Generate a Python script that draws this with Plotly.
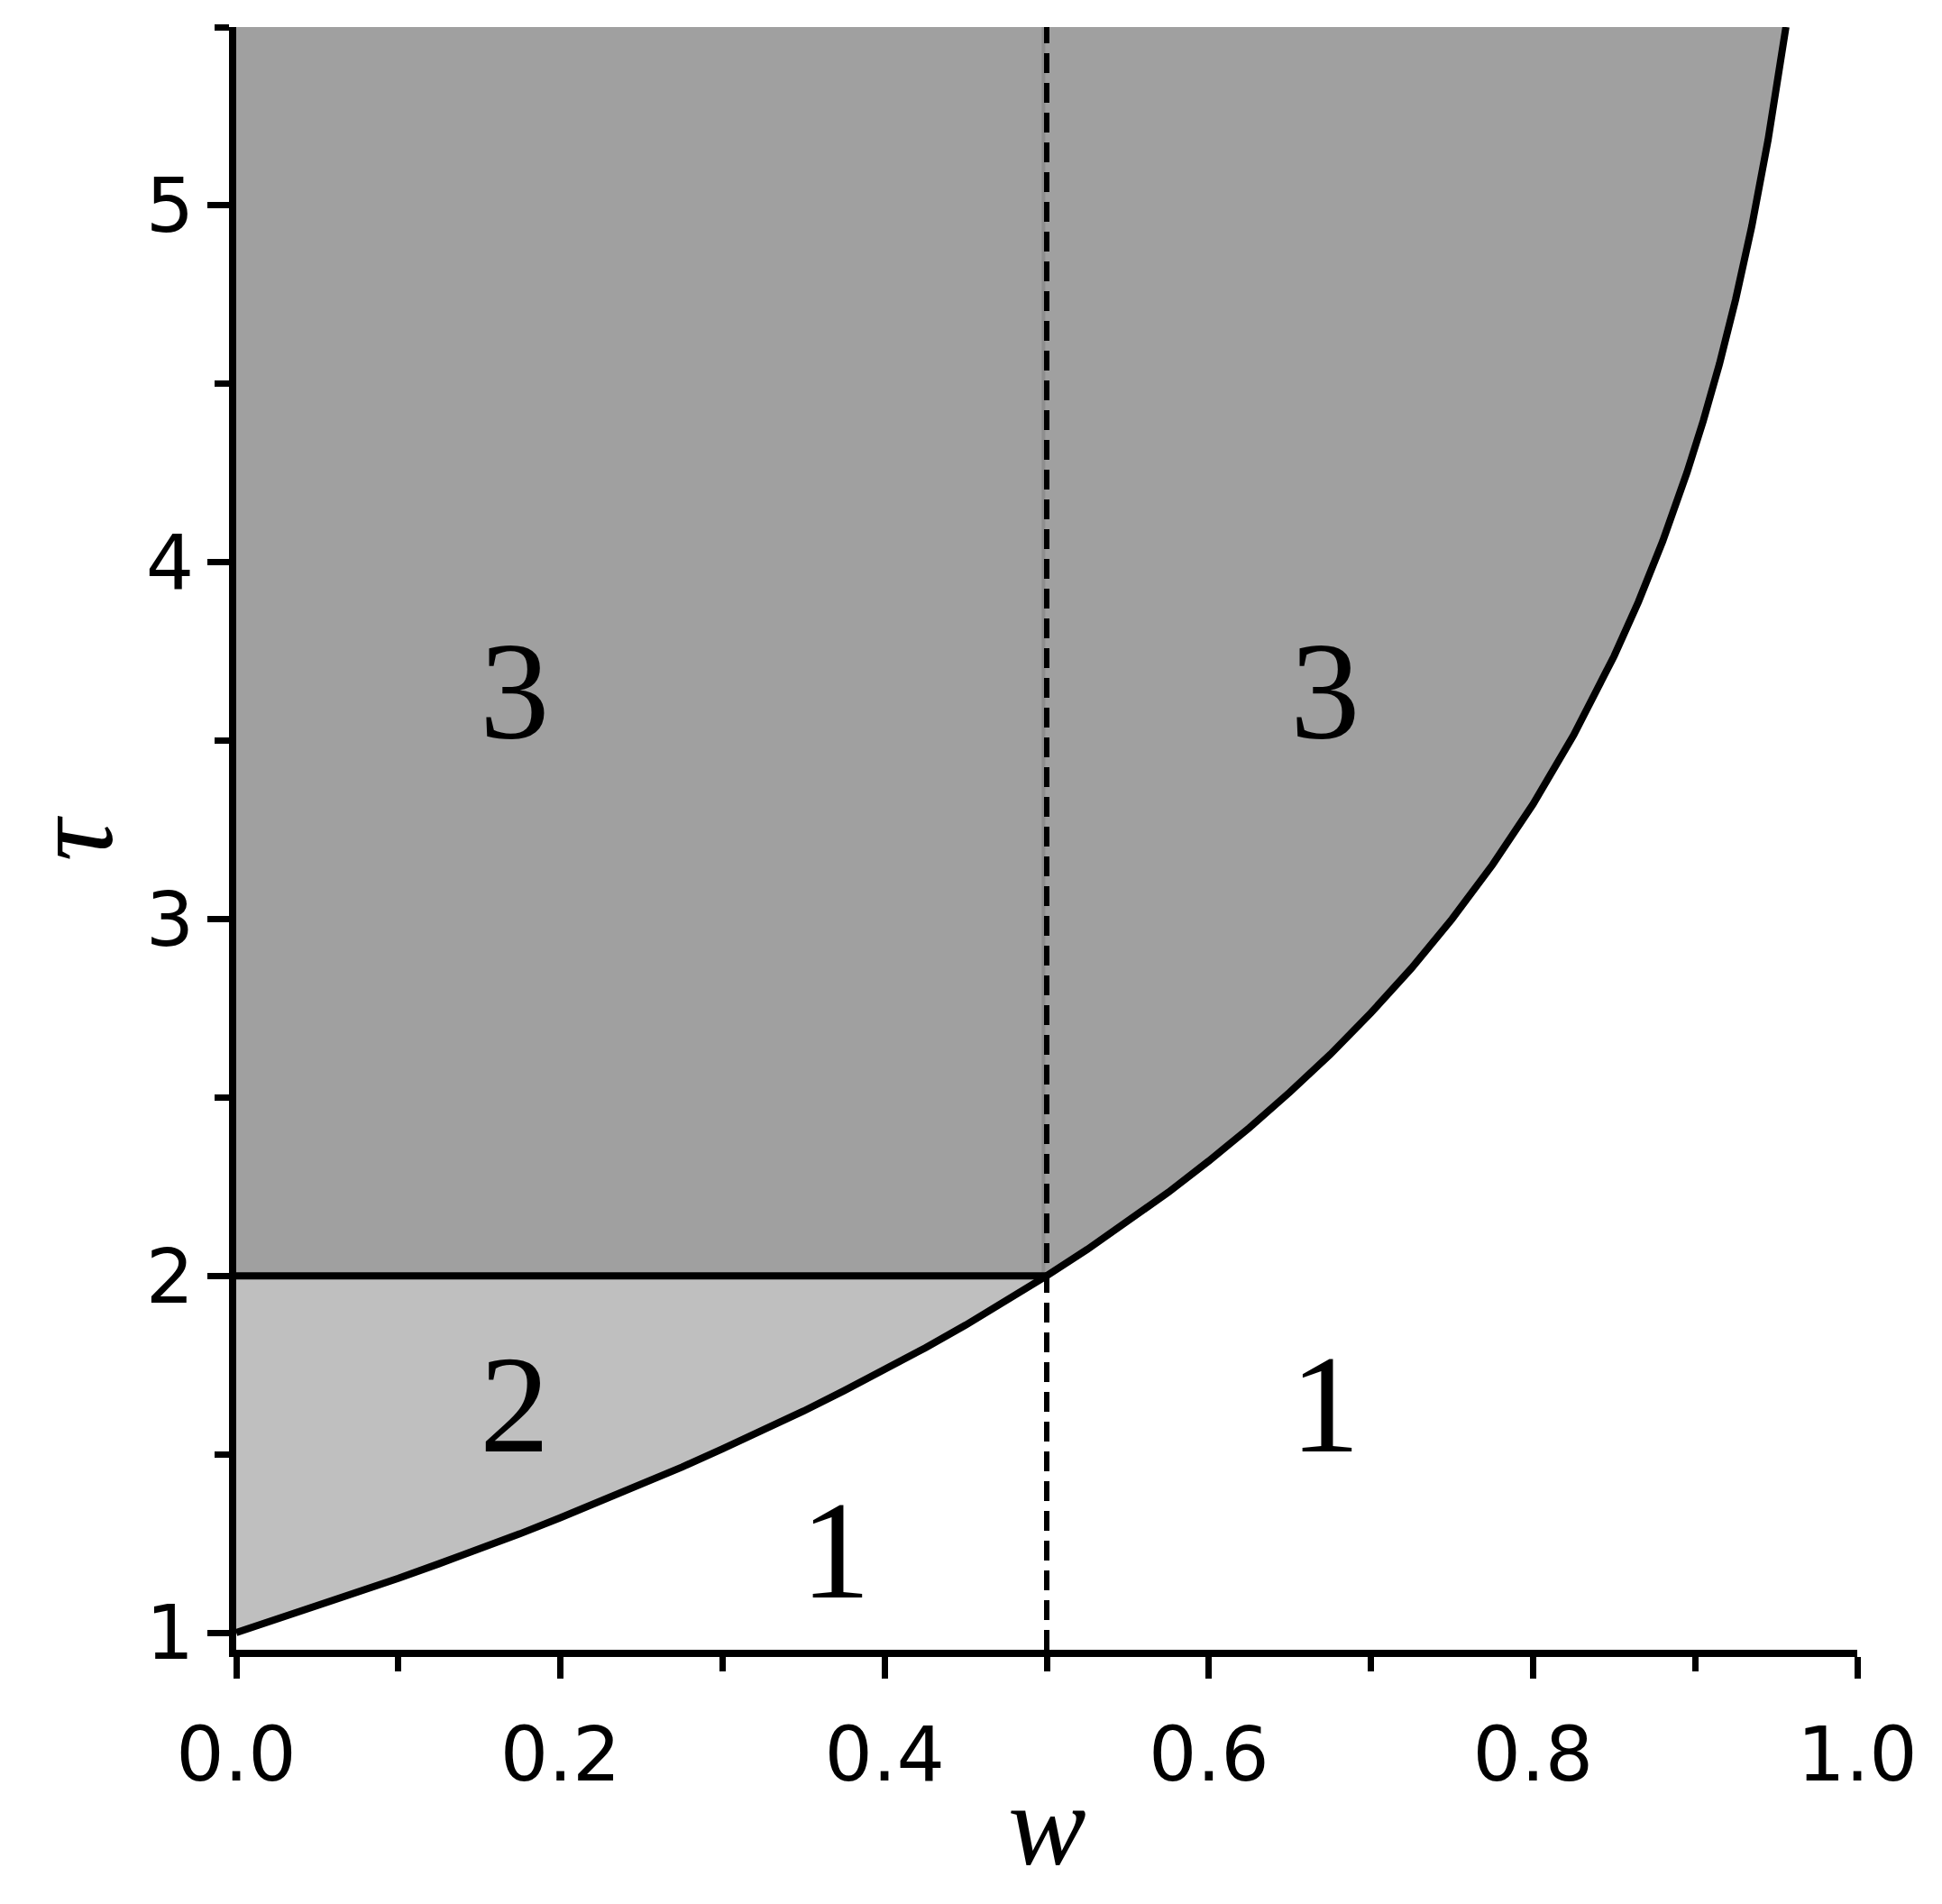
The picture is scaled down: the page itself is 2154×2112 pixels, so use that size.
import plotly.graph_objects as go

# boundary curve tau(w)
w_curve = [0.000, 0.025, 0.050, 0.075, 0.100, 0.125, 0.150, 0.175, 0.200, 0.225,
           0.250, 0.275, 0.300, 0.325, 0.350, 0.375, 0.400, 0.425, 0.450, 0.475,
           0.500, 0.525, 0.550, 0.575, 0.600, 0.625, 0.650, 0.675, 0.700, 0.725,
           0.750, 0.775, 0.800, 0.825, 0.850, 0.865, 0.880, 0.895, 0.905, 0.915,
           0.925, 0.935, 0.945, 0.956]
tau_curve = [1.000, 1.037, 1.074, 1.113, 1.152, 1.193, 1.234, 1.277, 1.322, 1.368,
             1.415, 1.464, 1.515, 1.567, 1.621, 1.678, 1.737, 1.798, 1.862, 1.929,
             2.000, 2.074, 2.152, 2.234, 2.322, 2.415, 2.515, 2.621, 2.737, 2.862,
             3.000, 3.152, 3.322, 3.515, 3.737, 3.889, 4.059, 4.252, 4.396, 4.556,
             4.737, 4.943, 5.184, 5.500]

W_SPLIT = 0.5
TAU_SPLIT = 2.0
TAU_MIN = 0.952
TAU_MAX = 5.5

region_labels = ["3", "3", "2", "1", "1"]
region_w = [0.172, 0.672, 0.172, 0.370, 0.672]
region_tau = [3.64, 3.64, 1.64, 1.23, 1.64]

x_ticks = [0.0, 0.2, 0.4, 0.6, 0.8, 1.0]
x_ticktext = ["0.0", "0.2", "0.4", "0.6", "0.8", "1.0"]
y_ticks = [1, 2, 3, 4, 5]

DARK = "#a0a0a0"
LIGHT = "#bfbfbf"

left = [(w, t) for w, t in zip(w_curve, tau_curve) if w <= W_SPLIT]
right = [(w, t) for w, t in zip(w_curve, tau_curve) if w >= W_SPLIT]

fig = go.Figure()

# region 3 (dark)
fig.add_trace(go.Scatter(
    x=[0.0] + [p[0] for p in right] + [0.0],
    y=[TAU_SPLIT] + [p[1] for p in right] + [TAU_MAX],
    fill="toself", fillcolor=DARK, line=dict(width=0), mode="lines",
    hoverinfo="skip", showlegend=False))

# region 2 (light)
fig.add_trace(go.Scatter(
    x=[p[0] for p in left] + [0.0],
    y=[p[1] for p in left] + [TAU_SPLIT],
    fill="toself", fillcolor=LIGHT, line=dict(width=0), mode="lines",
    hoverinfo="skip", showlegend=False))

# faint fill edge at the split
fig.add_trace(go.Scatter(
    x=[W_SPLIT - 0.002, W_SPLIT - 0.002], y=[TAU_SPLIT, TAU_MAX], mode="lines",
    line=dict(color="#8e8e8e", width=4), hoverinfo="skip", showlegend=False))

# horizontal boundary tau = 2
fig.add_trace(go.Scatter(
    x=[0.0, W_SPLIT], y=[TAU_SPLIT, TAU_SPLIT], mode="lines",
    line=dict(color="black", width=8), hoverinfo="skip", showlegend=False))

# dashed split line
fig.add_trace(go.Scatter(
    x=[W_SPLIT, W_SPLIT], y=[TAU_MIN, TAU_MAX], mode="lines",
    line=dict(color="black", width=6, dash="22px,11px"),
    hoverinfo="skip", showlegend=False))

# curve
fig.add_trace(go.Scatter(
    x=w_curve, y=tau_curve, mode="lines",
    line=dict(color="black", width=8),
    hoverinfo="skip", showlegend=False))

for lab, w, t in zip(region_labels, region_w, region_tau):
    fig.add_annotation(x=w, y=t, text=lab, showarrow=False,
                       font=dict(family="Liberation Serif", size=155, color="black"),
                       xanchor="center", yanchor="middle")

# axis labels
fig.add_annotation(x=0.5, y=-0.108, xref="paper", yref="paper", text="<i>w</i>",
                   showarrow=False, font=dict(family="Liberation Serif", size=130, color="black"),
                   xanchor="center", yanchor="middle")
fig.add_annotation(x=-0.101, y=0.500, xref="paper", yref="paper", text="<i>τ</i>",
                   showarrow=False, textangle=-90,
                   font=dict(family="Liberation Serif", size=130, color="black"),
                   xanchor="center", yanchor="middle")

axis_common = dict(
    showgrid=False, zeroline=False, showline=True, linecolor="black", linewidth=8,
    ticks="outside", ticklen=24, tickwidth=7, tickcolor="black",
    tickfont=dict(family="DejaVu Sans", size=84, color="black"),
    mirror=False,
)

fig.update_xaxes(range=[0, 1], tickvals=x_ticks, ticktext=x_ticktext,
                 minor=dict(dtick=0.1, tick0=0, ticks="outside", ticklen=16,
                            tickwidth=7, tickcolor="black"),
                 ticklabelstandoff=12, **axis_common)
fig.update_yaxes(range=[TAU_MIN, TAU_MAX], tickvals=y_ticks,
                 minor=dict(dtick=0.5, tick0=1, ticks="outside", ticklen=16,
                            tickwidth=7, tickcolor="black"),
                 ticklabelstandoff=-2, **axis_common)

fig.update_layout(
    width=2154, height=2112,
    margin=dict(l=254, r=102, t=22, b=290),
    plot_bgcolor="white", paper_bgcolor="white",
)

fig.write_html("out.html")
